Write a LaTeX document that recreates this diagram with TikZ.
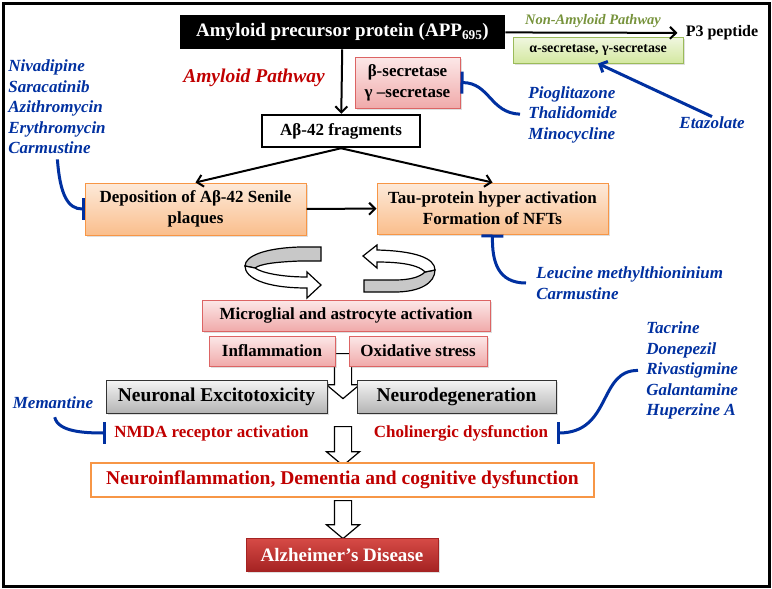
\documentclass[tikz,border=0pt]{standalone}
\usepackage{fontspec}
\setmainfont{Liberation Serif}
\usepackage{tikz}
\usetikzlibrary{arrows,arrows.meta,shapes.arrows,shadows}

\definecolor{drugblue}{RGB}{0,48,160}
\definecolor{darkred}{RGB}{192,0,0}
\definecolor{nonamyloid}{RGB}{119,147,60}
\definecolor{pinktop}{RGB}{252,232,232}
\definecolor{pinkbot}{RGB}{240,170,170}
\definecolor{pinkline}{RGB}{220,100,100}
\definecolor{orangetop}{RGB}{253,234,218}
\definecolor{orangebot}{RGB}{250,190,140}
\definecolor{orangeline}{RGB}{247,150,70}
\definecolor{greentop}{RGB}{240,247,225}
\definecolor{greenbot}{RGB}{212,232,160}
\definecolor{greenline}{RGB}{155,187,89}
\definecolor{graytop}{RGB}{245,245,245}
\definecolor{graybot}{RGB}{180,180,180}
\definecolor{adtop}{RGB}{215,75,70}
\definecolor{adbot}{RGB}{165,35,35}
\definecolor{ribbongray}{RGB}{200,200,200}

\begin{document}
\begin{tikzpicture}[x=1pt,y=-1pt,thick,>={Straight Barb[length=6pt,width=12pt]},
  every node/.style={inner sep=0pt},
  shaded node/.style={line width=1pt,align=center,
    drop shadow={opacity=.25,shadow xshift=1.5pt,shadow yshift=-1.5pt}},
  pink node/.style={shaded node,draw=pinkline,top color=pinktop,bottom color=pinkbot,
    font=\bfseries\fontsize{17}{21}\selectfont},
  orange node/.style={shaded node,draw=orangeline,top color=orangetop,bottom color=orangebot,
    font=\bfseries\fontsize{17}{21}\selectfont},
  gray node/.style={shaded node,draw=black!80,top color=graytop,bottom color=graybot,
    font=\bfseries\fontsize{19.5}{23}\selectfont},
  drug text/.style={align=left,text=drugblue,font=\bfseries\itshape\fontsize{17}{20.5}\selectfont},
  red text/.style={inner sep=8pt,text=darkred,font=\bfseries\fontsize{17}{20}\selectfont},
  inhibit/.style={draw=drugblue,line width=3pt,-{Bar[width=22pt,line width=3pt]}},
  hollow arrow/.style={single arrow,draw,fill=white,line width=1.2pt,rotate=-90,inner sep=8pt,
    single arrow head extend=8pt,single arrow tip angle=100}]

  \useasboundingbox (0,0) rectangle (772,589);
  \draw[line width=3pt] (3,3) rectangle (769,586);

  % feedback loops
  \filldraw[fill=ribbongray,line width=1.2pt] (245,266) .. controls (245,256) and (265,248) .. (300,247)
    -- (321,247) -- (321,261) -- (300,261) .. controls (275,262) and (260,264) .. (255,268) -- cycle;
  \filldraw[fill=white,line width=1.2pt] (245,266) .. controls (245,278) and (265,288) .. (307,288)
    -- (307,298) -- (321,285) -- (307,272) -- (307,277) .. controls (282,277) and (262,273) .. (255,268) -- cycle;
  \filldraw[fill=ribbongray,line width=1.2pt] (435,270) .. controls (435,283) and (420,292) .. (395,292)
    -- (364,292) -- (364,280) -- (395,280) .. controls (410,280) and (420,277) .. (425,272) -- cycle;
  \filldraw[fill=white,line width=1.2pt] (377,250) .. controls (415,251) and (435,258) .. (435,270)
    -- (425,272) .. controls (420,266) and (405,262) .. (377,262) -- (377,268) -- (363,256) -- (377,245) -- cycle;

  \node[hollow arrow,minimum height=45pt] (25) at (343,372.5) {};
  \node[hollow arrow,minimum height=39pt] (26) at (343,442.5) {};
  \node[hollow arrow,minimum height=38pt] (27) at (343,516) {};

  \node[fill=black,text=white,minimum width=325pt,minimum height=34pt,
    font=\bfseries\fontsize{19}{22}\selectfont] (1) at (342.5,32) {Amyloid precursor protein (APP\textsubscript{695})};
  \node[shaded node,draw=greenline,top color=greentop,bottom color=greenbot,minimum width=170pt,
    minimum height=26pt,font=\bfseries\fontsize{14}{17}\selectfont] (2) at (598,50) {α-secretase, γ-secretase};
  \node[pink node,minimum width=105pt,minimum height=51pt] (3) at (407.5,82.5) {β-secretase\\γ –secretase};
  \node[draw,line width=2.5pt,fill=white,minimum width=158pt,minimum height=32pt,
    font=\bfseries\fontsize{17}{20}\selectfont] (4) at (341,131) {Aβ-42 fragments};
  \node[orange node,minimum width=221pt,minimum height=52pt] (5) at (195.5,209) {Deposition of Aβ-42 Senile\\plaques};
  \node[orange node,minimum width=231pt,minimum height=51pt] (6) at (492.5,208.5) {Tau-protein hyper activation\\Formation of NFTs};
  \node[pink node,minimum width=288pt,minimum height=31pt] (7) at (346,315.5) {Microglial and astrocyte activation};
  \node[pink node,minimum width=126pt,minimum height=30pt] (8) at (272,351) {Inflammation};
  \node[pink node,minimum width=138pt,minimum height=30pt] (9) at (418,351) {Oxidative stress};
  \node[gray node,minimum width=221pt,minimum height=33pt] (10) at (216.5,396.5) {Neuronal Excitotoxicity};
  \node[gray node,minimum width=199pt,minimum height=33pt] (11) at (456.5,396.5) {Neurodegeneration};
  \node[red text] (12) at (211.5,433) {NMDA receptor activation};
  \node[red text] (13) at (461,433) {Cholinergic dysfunction};
  \node[draw=orangeline,line width=2.5pt,fill=white,minimum width=503pt,minimum height=34pt,text=darkred,
    font=\bfseries\fontsize{19.5}{23}\selectfont] (14) at (342.5,480) {Neuroinflammation, Dementia and cognitive dysfunction};
  \node[shaded node,draw=adbot,top color=adtop,bottom color=adbot,text=white,minimum width=192pt,
    minimum height=33pt,font=\bfseries\fontsize{19}{22}\selectfont] (15) at (342,554.5) {Alzheimer’s Disease};

  \node[inner sep=8pt,font=\bfseries\fontsize{16}{19}\selectfont] (16) at (722,33) {P3 peptide};
  \node[text=nonamyloid,font=\bfseries\itshape\fontsize{14.5}{18}\selectfont] (17) at (593,21) {Non-Amyloid Pathway};
  \node[text=darkred,font=\bfseries\itshape\fontsize{19.5}{23}\selectfont] (18) at (254,78) {Amyloid Pathway};

  % drugs
  \node[drug text,anchor=west] (19) at (8,107) {Nivadipine\\Saracatinib\\Azithromycin\\Erythromycin\\Carmustine};
  \node[drug text,anchor=west] (20) at (528,114.5) {Pioglitazone\\Thalidomide\\Minocycline};
  \node[drug text] (21) at (712,123) {Etazolate};
  \node[drug text,anchor=west] (22) at (536,283) {Leucine methylthioninium\\Carmustine};
  \node[drug text] (23) at (53,403) {Memantine};
  \node[drug text,anchor=west] (24) at (646,370.5) {Tacrine\\Donepezil\\Rivastigmine\\Galantamine\\Huperzine A};

  \path[->,line width=2pt]
    (1) edge (4)
        edge (16)
    (4.south) edge (5.north)
              edge (6.north)
    (5) edge (6);

  \draw[->,draw=drugblue,line width=3pt] (21.north) -- (2.south);
  \draw[inhibit,shorten <=5pt] (19.south) .. controls (60,195) and (68,209) .. (5.west);
  \draw[inhibit,shorten <=8pt] (20.west) .. controls (490,113) and (490,83) .. (3.east);
  \draw[inhibit,shorten <=10pt] (22.west) .. controls (498,283) and (492,262) .. (6.south);
  \draw[inhibit,shorten <=8pt] (23.south) .. controls (58,432) and (85,433) .. (12.west);
  \draw[inhibit,shorten <=8pt] (24.west) .. controls (598,370) and (612,433) .. (13.east);
\end{tikzpicture}
\end{document}
